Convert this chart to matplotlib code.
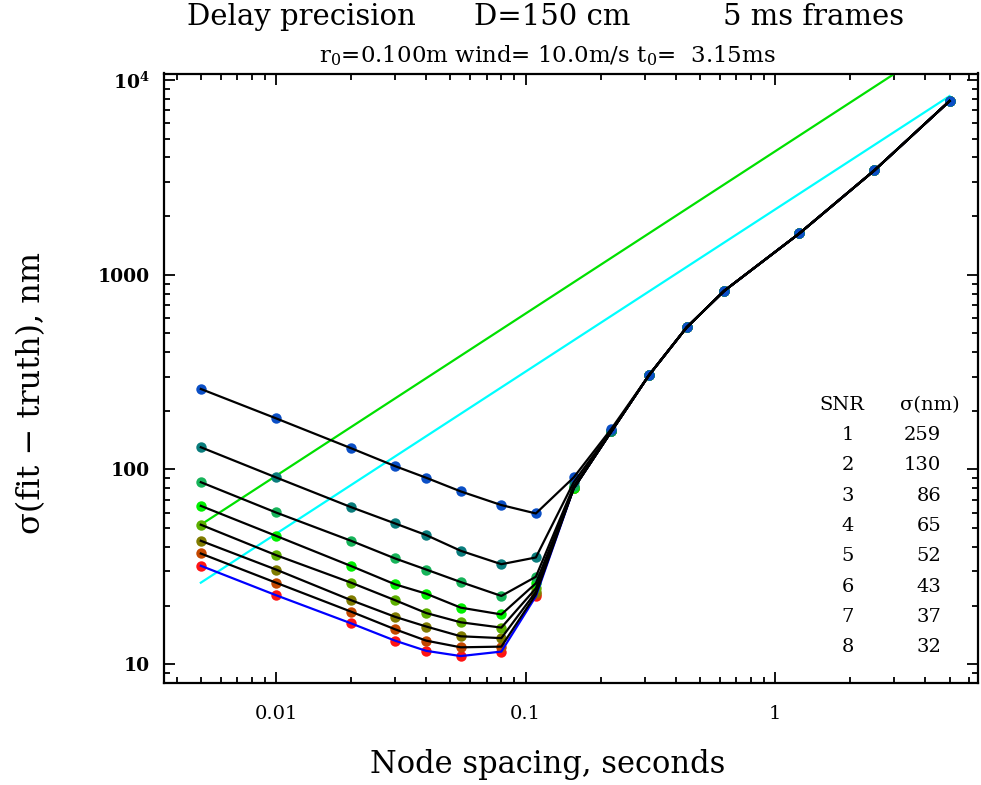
import matplotlib
matplotlib.use("Agg")
import matplotlib.pyplot as plt
import matplotlib.ticker as mticker

plt.rcParams['font.family'] = ['DejaVu Serif']
plt.rcParams['mathtext.fontset'] = 'dejavuserif'

# node spacing (s)
spacing = [0.005, 0.01, 0.02, 0.03, 0.04, 0.055, 0.08, 0.11, 0.156, 0.221,
           0.3125, 0.442, 0.625, 1.25, 2.5, 5.0]

# sigma(fit - truth) in nm, one list per SNR; the long-spacing tail is shared
tail = [305, 536, 826, 1629, 3437, 7800]
snr1 = [259, 183, 128.5, 104, 90.6, 77.1, 65.6, 59.4, 91, 162]
snr2 = [130, 91, 64, 52.8, 46, 38.2, 32.6, 35.3, 86, 158]
snr3 = [86, 60.1, 43, 34.9, 30.6, 26.4, 22.4, 28.1, 82, 157]
snr4 = [65, 45.6, 31.9, 25.7, 23, 19.5, 18, 26.0, 80, 157]
snr5 = [52, 36.3, 26.2, 21.3, 18.3, 16.4, 15.4, 24.5, 80, 157]
snr6 = [43, 30.6, 21.3, 17.5, 15.6, 13.9, 13.6, 23.5, 80, 157]
snr7 = [37, 26.2, 18.6, 15.1, 13.2, 12.2, 12.3, 22.8, 80, 157]
snr8 = [32, 22.6, 16.2, 13.2, 11.7, 11.0, 11.6, 22.3, 80, 157]
series = [snr1, snr2, snr3, snr4, snr5, snr6, snr7, snr8]

dot_colors = ['#0b4fc6', '#0a7d7d', '#17b45a', '#00f000', '#5cb000',
              '#807c00', '#c44800', '#ff1414']
line_colors = ['k'] * 7 + ['#0000ff']

# reference lines (5/6 power law), end points only
ref_x = [0.005, 5.0]
green_y = [52, 16450]
cyan_y = [26.2, 8270]

snr_ids = [1, 2, 3, 4, 5, 6, 7, 8]
snr_sig = [259, 130, 86, 65, 52, 43, 37, 32]

W, H = 981, 785
fig = plt.figure(figsize=(W/100, H/100), dpi=100)
ax = fig.add_axes([164/W, 1-683/H, (978-164)/W, (683-73.5)/H])

def fx(x):
    return x / W

def fy(y):
    return 1 - y / H

ax.plot(ref_x, green_y, color='#00e000', lw=1.6, zorder=2)
ax.plot(ref_x, cyan_y, color='#00ffff', lw=1.6, zorder=2)

# dots first, lines on top; SNR=1 last so its dots sit on top
for i in range(7, -1, -1):
    y = series[i] + tail
    ax.plot(spacing, y, 'o', color=dot_colors[i], ms=7.5, mec='none', zorder=3)
for i in range(7, -1, -1):
    y = series[i] + tail
    ax.plot(spacing, y, '-', color=line_colors[i], lw=1.6, zorder=4)

ax.set_xscale('log')
ax.set_yscale('log')
ax.set_xlim(0.00356, 6.5)
ax.set_ylim(8.0, 10800)

ax.set_xticks([0.01, 0.1, 1])
ax.set_xticklabels(['0.01', '0.1', '1'])
ax.set_yticks([10, 100, 1000, 10000])
ax.set_yticklabels(['10', '100', '1000', '$\\mathbf{10^4}$'])
ax.xaxis.set_minor_formatter(mticker.NullFormatter())
ax.yaxis.set_minor_formatter(mticker.NullFormatter())
ax.tick_params(which='both', direction='in', top=True, right=True, width=1.3)
ax.tick_params(which='major', length=8)
ax.tick_params(which='minor', length=4.5)
ax.tick_params(axis='x', which='major', pad=16, labelsize=14)
ax.tick_params(axis='y', which='major', pad=10, labelsize=13.5)
for lab in ax.get_yticklabels():
    lab.set_fontweight('bold')
for s in ax.spines.values():
    s.set_linewidth(1.6)

# titles
fig.text(fx(301), fy(25), 'Delay precision', ha='center', va='baseline', fontsize=21)
fig.text(fx(552), fy(25), 'D=150 cm', ha='center', va='baseline', fontsize=21)
fig.text(fx(814), fy(25), '5 ms frames', ha='center', va='baseline', fontsize=21)
fig.text(fx(547), fy(62), r'r$_0$=0.100m wind= 10.0m/s t$_0$=  3.15ms',
         ha='center', va='baseline', fontsize=16.5)

fig.text(fx(548), fy(773), 'Node spacing, seconds', ha='center', va='baseline', fontsize=22)
fig.text(fx(32), fy(393), '\u03c3(fit \u2212 truth), nm', ha='center', va='center',
         rotation=90, fontsize=23)

# SNR table
fig.text(fx(842), fy(405), 'SNR', ha='center', va='center', fontsize=14)
fig.text(fx(930), fy(405), '\u03c3(nm)', ha='center', va='center', fontsize=14)
for k in range(len(snr_ids)):
    yy = 435 + 30.3 * k
    fig.text(fx(848), fy(yy), str(snr_ids[k]), ha='center', va='center', fontsize=14)
    fig.text(fx(941), fy(yy), str(snr_sig[k]), ha='right', va='center', fontsize=14)

fig.savefig('out.png', dpi=100)
